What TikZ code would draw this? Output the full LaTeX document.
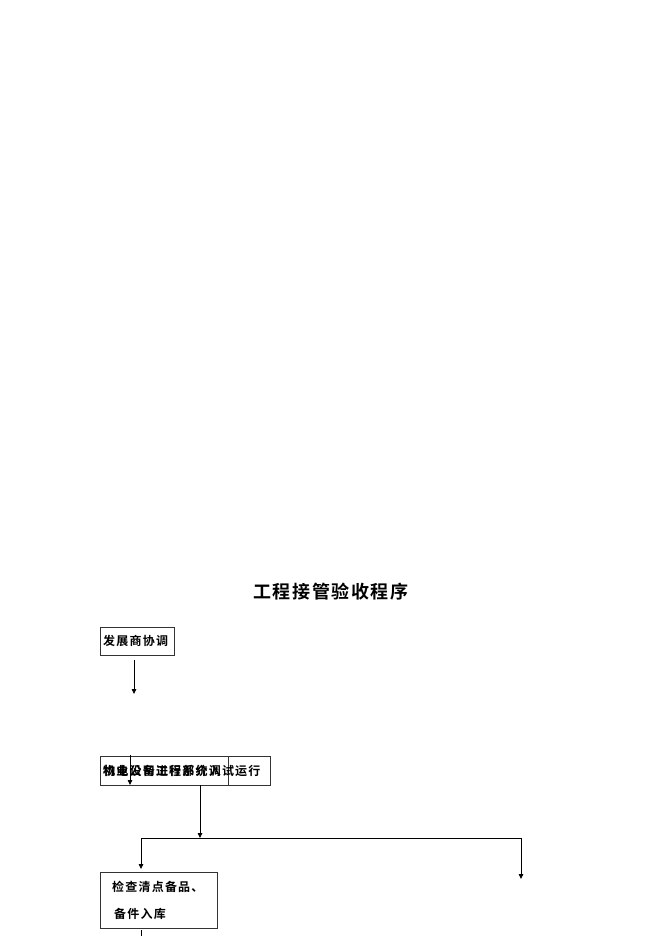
\documentclass[tikz,border=0pt]{standalone}
\usepackage{fontspec}
\setmainfont{Liberation Serif}
\newfontfamily\cjk{Noto Sans CJK SC}[BoldFont={Noto Sans CJK SC Bold}]
\newfontfamily\cjkwide{Noto Sans CJK SC Bold}[LetterSpace=10]
\newfontfamily\cjktitle{Noto Sans CJK SC Bold}[LetterSpace=9]
\usetikzlibrary{arrows.meta}
\begin{document}
\begin{tikzpicture}[x=1bp,y=-1bp,
  box/.style={draw=black!80,line width=0.8bp,inner sep=0pt},
  lbl/.style={font=\cjkwide\fontsize{12bp}{14bp}\selectfont,inner sep=0pt,anchor=west},
  arr/.style={line width=0.8bp,-{Triangle[length=5bp,width=4.5bp]}},
  ln/.style={line width=0.8bp}]
\useasboundingbox (0,0) rectangle (662,936);
% title
\node[font=\cjktitle\fontsize{18bp}{20bp}\selectfont,inner sep=0pt,anchor=west] (title) at (253,592) {工程接管验收程序};
% box 1
\node[box,minimum width=74bp,minimum height=28bp] (fz) at (137,641) {};
\node[lbl] (fzt) at (103,641) {发展商协调};
\coordinate (a1s) at (134,660);
\coordinate (a1e) at (134,694);
\draw[arr] (a1s) -- (a1e);
% overlapping boxes
\node[box,minimum width=128bp,minimum height=29bp] (wy) at (164,770.5) {};
\node[box,minimum width=170bp,minimum height=29bp] (jd) at (185,770.5) {};
\node[lbl] (wyt) at (103,770.5) {物业公司工程部介入};
\node[lbl] (jdt) at (103,770.5) {机电设备进行系统调试运行};
\coordinate (a2s) at (130,755);
\coordinate (a2e) at (130,785);
\draw[arr] (a2s) -- (a2e);
% split
\coordinate (s0) at (200,785);
\coordinate (s1) at (200,838);
\coordinate (hl) at (141,838);
\coordinate (hr) at (521,838);
\coordinate (el) at (141,869);
\coordinate (er) at (521,879);
\draw[arr] (s0) -- (s1);
\draw[ln] (hl) -- (hr);
\draw[arr] (hl) -- (el);
\draw[arr] (hr) -- (er);
% bottom box
\node[box,minimum width=117bp,minimum height=56bp] (jc) at (158.5,900) {};
\node[lbl] (jc1) at (112,887) {检查清点备品、};
\node[lbl] (jc2) at (114,914) {备件入库};
\coordinate (b0) at (141,930);
\coordinate (b1) at (141,936);
\draw[ln] (b0) -- (b1);
\end{tikzpicture}
\end{document}
